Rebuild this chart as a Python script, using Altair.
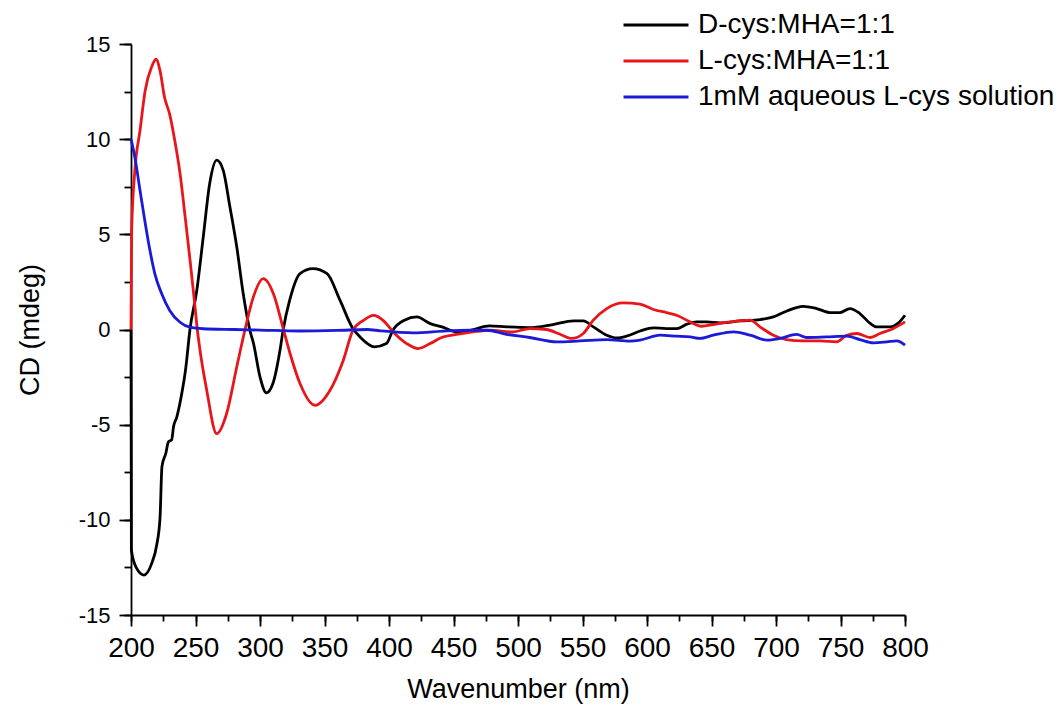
import altair as alt
import pandas as pd

# ---- data ----
series_names = ["D-cys:MHA=1:1", "L-cys:MHA=1:1", "1mM aqueous L-cys solution"]
series_colors = ["#000000", "#e8161b", "#1a1ad8"]

d_x = [200, 200.3, 204, 210, 216, 220, 222.5, 224, 227, 229, 231.5, 233, 235.5, 239, 242.5,
       245.7, 251, 256, 261, 266.4, 271.5, 276.7, 282, 287, 292, 295, 300, 305, 310, 315.5,
       318, 323, 331, 341, 352, 362, 372, 377.5, 389, 398, 403, 412, 421.5, 432, 441, 452.5,
       463, 478, 491, 509, 527, 543, 550.6, 558.4, 568.8, 576.5, 584, 594.6, 605, 615, 623,
       631, 638.5, 646, 656.6, 672, 687.6, 698, 708, 721, 731.6, 742, 749.6, 757.4, 765, 773,
       778, 788.4, 795, 800]
d_y = [0.0, -11.6, -12.5, -12.9, -12.3, -11.3, -9.9, -7.2, -6.5, -5.9, -5.8, -5.1, -4.6, -3.5, -2.0,
       0.0, 2.05, 4.85, 7.67, 8.9, 8.36, 6.43, 4.33, 1.88, 0.0, -0.74, -2.49, -3.33, -2.84, -1.09,
       0.0, 1.54, 2.94, 3.2, 2.94, 1.54, 0.05, -0.39, -0.91, -0.74, -0.04, 0.49, 0.66, 0.31, 0.14, -0.13,
       -0.04, 0.19, 0.14, 0.1, 0.26, 0.45, 0.45, 0.14, -0.3, -0.44, -0.35, -0.08, 0.09, 0.05, 0.05,
       0.28, 0.4, 0.4, 0.35, 0.45, 0.52, 0.66, 0.96, 1.22, 1.1, 0.89, 0.89, 1.1, 0.84, 0.32,
       0.14, 0.14, 0.35, 0.75]

l_x = [200, 200.5, 203, 207, 211, 216, 219.4, 222.5, 226, 230, 234, 238, 242, 246, 249.6, 251.4,
       253.5, 258.7, 266.4, 274.2, 282, 288.4, 294.8, 302.6, 310.4, 318, 323.3, 331, 342.6, 354.3,
       364.6, 372.3, 380, 388, 395.6, 403.3, 413.7, 422.7, 431.8, 440.8, 452.5, 465, 478, 496, 509,
       522, 532.6, 541.6, 550.6, 558.4, 568.8, 581.6, 594.6, 605, 615, 623, 633.4, 642.4, 651.4,
       664.4, 680, 687.6, 698, 708, 721, 734, 747, 754.8, 762.6, 773, 780.6, 791, 800]
l_y = [0.0, 5.2, 8.36, 10.46, 12.56, 13.8, 14.2, 13.6, 12.2, 11.3, 9.9, 8.2, 5.9, 3.5, 1.2, 0.0,
       -1.09, -3.19, -5.47, -4.4, -1.96, 0.0, 1.7, 2.67, 1.88, 0.05, -1.26, -2.84, -3.98, -3.19,
       -1.61, 0.0, 0.47, 0.74, 0.47, -0.13, -0.74, -1.0, -0.74, -0.42, -0.26, -0.13, -0.04, -0.13, 0.05,
       0.0, -0.25, -0.47, -0.21, 0.49, 1.1, 1.4, 1.33, 1.05, 0.89, 0.75, 0.4, 0.17, 0.26,
       0.4, 0.49, 0.14, -0.3, -0.53, -0.6, -0.6, -0.65, -0.3, -0.21, -0.42, -0.21, 0.05, 0.4]

b_x = [200, 203, 207, 211, 214.7, 218.6, 223.8, 230, 238, 245.7, 256, 280, 300, 331, 360, 383,
       393, 418.8, 444.7, 462.8, 475.7, 491, 509, 530, 548, 568.8, 586.8, 594.6, 610, 623, 633.4,
       641, 651.4, 667, 680, 693, 703, 716, 723.8, 739, 754.8, 765, 775.5, 786, 793.6, 800]
b_y = [10.0, 9.05, 7.3, 5.6, 4.15, 2.9, 1.88, 1.0, 0.38, 0.12, 0.04, 0.0, -0.03, -0.08, -0.05, 0.0,
       -0.07, -0.18, -0.07, -0.04, -0.04, -0.25, -0.42, -0.65, -0.6, -0.53, -0.61, -0.56, -0.3, -0.35, -0.39,
       -0.47, -0.3, -0.12, -0.3, -0.56, -0.47, -0.26, -0.42, -0.39, -0.35, -0.53, -0.7, -0.65, -0.6, -0.82]

x_major = list(range(200, 801, 50))
x_minor = list(range(200, 801, 25))
y_major = [-15, -10, -5, 0, 5, 10, 15]
y_minor = [-15, -12.5, -10, -7.5, -5, -2.5, 0, 2.5, 5, 7.5, 10, 12.5, 15]

rows = []
for name, xs, ys in zip(series_names, [d_x, l_x, b_x], [d_y, l_y, b_y]):
    for i, (xv, yv) in enumerate(zip(xs, ys)):
        rows.append({"wl": xv, "cd": yv, "series": name, "idx": i})
df = pd.DataFrame(rows)

FONT = "Liberation Sans"
xscale = alt.Scale(domain=[200, 800], nice=False, zero=False)
yscale = alt.Scale(domain=[-15, 15], nice=False, zero=False)

base = alt.Chart(df)

lines = base.mark_line(strokeWidth=2.8, interpolate="monotone").encode(
    x=alt.X("wl:Q", scale=xscale,
            axis=alt.Axis(title="Wavenumber (nm)", values=x_major, orient="bottom",
                          tickSize=11, tickWidth=1.8, tickColor="black",
                          domainColor="black", domainWidth=1.8, grid=False,
                          labelFont=FONT, labelFontSize=28, labelColor="black",
                          labelPadding=8, labelOverlap=False, labelFlush=False,
                          titleFont=FONT, titleFontSize=27, titleFontWeight="normal",
                          titleColor="black", titlePadding=14)),
    y=alt.Y("cd:Q", scale=yscale,
            axis=alt.Axis(title="CD (mdeg)", values=y_major, orient="left",
                          labelExpr="'' + datum.value",
                          tickSize=12, tickWidth=1.8, tickColor="black",
                          domainColor="black", domainWidth=1.8, grid=False,
                          labelFont=FONT, labelFontSize=22, labelColor="black",
                          labelPadding=9, labelOverlap=False, labelFlush=False,
                          titleFont=FONT, titleFontSize=27, titleFontWeight="normal",
                          titleColor="black", titlePadding=34)),
    color=alt.Color("series:N",
                    scale=alt.Scale(domain=series_names, range=series_colors),
                    legend=alt.Legend(title=None, orient="none", legendX=491, legendY=-33,
                                      symbolType="stroke", symbolSize=4225, symbolStrokeWidth=3,
                                      clipHeight=28, rowPadding=8, padding=0,
                                      labelFont=FONT, labelFontSize=28, labelColor="black",
                                      labelOffset=8, labelLimit=600)),
    order="idx:Q",
)

minor = base.mark_line(opacity=0).encode(
    x=alt.X("wl:Q", scale=xscale,
            axis=alt.Axis(title="", values=x_minor, orient="bottom", labels=False,
                          domain=False, grid=False, tickSize=6, tickWidth=1.8,
                          tickColor="black")),
    y=alt.Y("cd:Q", scale=yscale,
            axis=alt.Axis(title="", values=y_minor, orient="left", labels=False,
                          domain=False, grid=False, tickSize=7, tickWidth=1.8,
                          tickColor="black")),
    detail="series:N",
)

chart = (
    alt.layer(lines, minor)
    .resolve_axis(x="independent", y="independent")
    .properties(width=774, height=571,
                autosize=alt.AutoSizeParams(type="none"),
                padding={"left": 131, "top": 44, "right": 159, "bottom": 98},
                background="white")
    .configure_view(strokeWidth=0)
)

chart.save("out.html", embed_options={"renderer": "svg", "actions": False})
